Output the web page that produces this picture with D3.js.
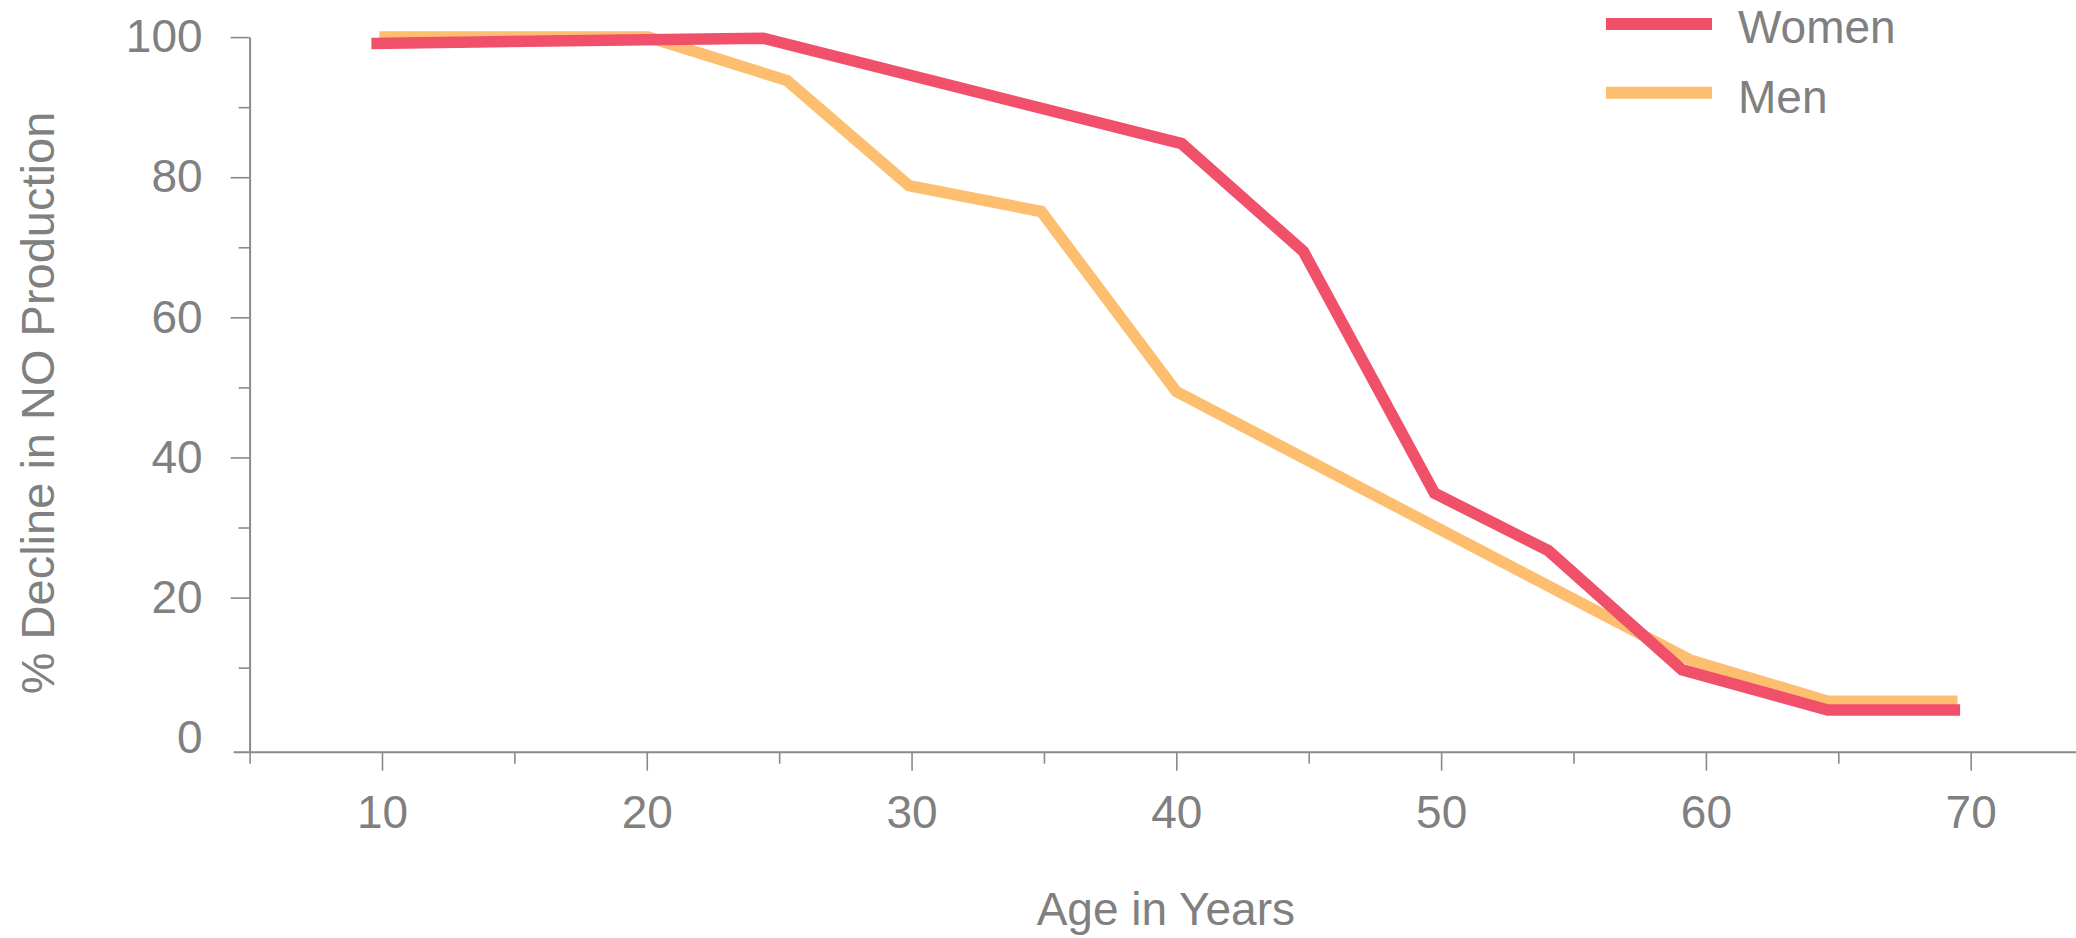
<!DOCTYPE html>
<html>
<head>
<meta charset="utf-8">
<script src="https://cdn.jsdelivr.net/npm/d3@7"></script>
<style>
  html, body { margin: 0; padding: 0; background: #fff; }
  svg { display: block; }
  text { font-family: "Liberation Sans", Arial, sans-serif; fill: #808080; }
</style>
</head>
<body>
<svg id="chart" width="2076" height="938"></svg>
<script>
// ---- data ----
const seriesNames = ["Women", "Men"];
const seriesColors = ["#f0506a", "#fdbf6f"];
const womenAge = [9.6, 24.4, 40.2, 44.8, 49.75, 54.05, 59.1, 64.6, 69.6];
const womenDecline = [99.1, 99.85, 84.8, 69.4, 34.9, 26.7, 9.7, 3.95, 3.95];
const menAge = [9.9, 20.05, 25.3, 29.9, 34.9, 40.0, 59.4, 64.6, 69.5];
const menDecline = [100, 100, 93.8, 78.8, 75.1, 49.4, 11.1, 5.2, 5.2];
const xTickValues = [5, 10, 15, 20, 25, 30, 35, 40, 45, 50, 55, 60, 65, 70];
const xTickLabels = [10, 20, 30, 40, 50, 60, 70];
const yTickValues = [0, 10, 20, 30, 40, 50, 60, 70, 80, 90, 100];
const yTickLabels = [0, 20, 40, 60, 80, 100];
const xTitle = "Age in Years";
const yTitle = "% Decline in NO Production";

// ---- layout ----
const svg = d3.select("#chart");
const axisColor = "#8a8a8a";
const fontSize = 46;

const x = d3.scaleLinear().domain([5, 74]).range([249.6, 2076.6]);
const y = d3.scaleLinear().domain([-2, 100]).range([751.7, 37.1]);

// x axis
const xAxis = d3.axisBottom(x)
  .tickValues(xTickValues)
  .tickSize(19)
  .tickSizeOuter(0)
  .tickPadding(25)
  .tickFormat(d => xTickLabels.includes(d) ? String(d) : "");
const gx = svg.append("g")
  .attr("transform", `translate(0,${y(-2)})`)
  .call(xAxis);
gx.select(".domain")
  .attr("d", `M${x(5) - 16},0.5H${2076}`)
  .attr("stroke", axisColor).attr("stroke-width", 2);
gx.selectAll(".tick line")
  .attr("stroke", axisColor).attr("stroke-width", 1.6)
  .attr("y2", d => xTickLabels.includes(d) ? 19 : 12);
gx.selectAll(".tick text")
  .attr("font-size", fontSize)
  .style("font-family", '"Liberation Sans", Arial, sans-serif')
  .attr("fill", "#808080");

// y axis
const yAxis = d3.axisLeft(y)
  .tickValues(yTickValues)
  .tickSize(19)
  .tickSizeOuter(0)
  .tickPadding(28)
  .tickFormat(d => yTickLabels.includes(d) ? String(d) : "");
const gy = svg.append("g")
  .attr("transform", `translate(${x(5)},0)`)
  .call(yAxis);
gy.select(".domain")
  .attr("stroke", axisColor).attr("stroke-width", 2);
gy.selectAll(".tick line")
  .attr("stroke", axisColor).attr("stroke-width", 1.6)
  .attr("x2", d => d === 0 ? 0 : (yTickLabels.includes(d) ? -19 : -11));
gy.selectAll(".tick text")
  .attr("font-size", fontSize)
  .style("font-family", '"Liberation Sans", Arial, sans-serif')
  .attr("fill", "#808080");

// lines
const line = d3.line().x(d => x(d[0])).y(d => y(d[1]));
const menData = menAge.map((a, i) => [a, menDecline[i]]);
const womenData = womenAge.map((a, i) => [a, womenDecline[i]]);

svg.append("path")
  .datum(menData)
  .attr("d", line)
  .attr("fill", "none")
  .attr("stroke", seriesColors[1])
  .attr("stroke-width", 11.5)
  .attr("stroke-linejoin", "miter");
svg.append("path")
  .datum(womenData)
  .attr("d", line)
  .attr("fill", "none")
  .attr("stroke", seriesColors[0])
  .attr("stroke-width", 11.5)
  .attr("stroke-linejoin", "miter");

// axis titles
svg.append("text")
  .attr("x", (x(5) + 2076) / 2 + 3)
  .attr("y", 925)
  .attr("text-anchor", "middle")
  .attr("font-size", fontSize)
  .text(xTitle);

svg.append("text")
  .attr("transform", "translate(54,403) rotate(-90)")
  .attr("text-anchor", "middle")
  .attr("font-size", 47)
  .text(yTitle);

// legend
const legendY = [24, 92.7];
const legendTextY = [42.5, 113];
const legend = svg.append("g");
seriesNames.forEach((name, i) => {
  legend.append("line")
    .attr("x1", 1606).attr("x2", 1712)
    .attr("y1", legendY[i]).attr("y2", legendY[i])
    .attr("stroke", seriesColors[i])
    .attr("stroke-width", 12);
  legend.append("text")
    .attr("x", 1738)
    .attr("y", legendTextY[i])
    .attr("font-size", fontSize)
    .text(name);
});
</script>
</body>
</html>
